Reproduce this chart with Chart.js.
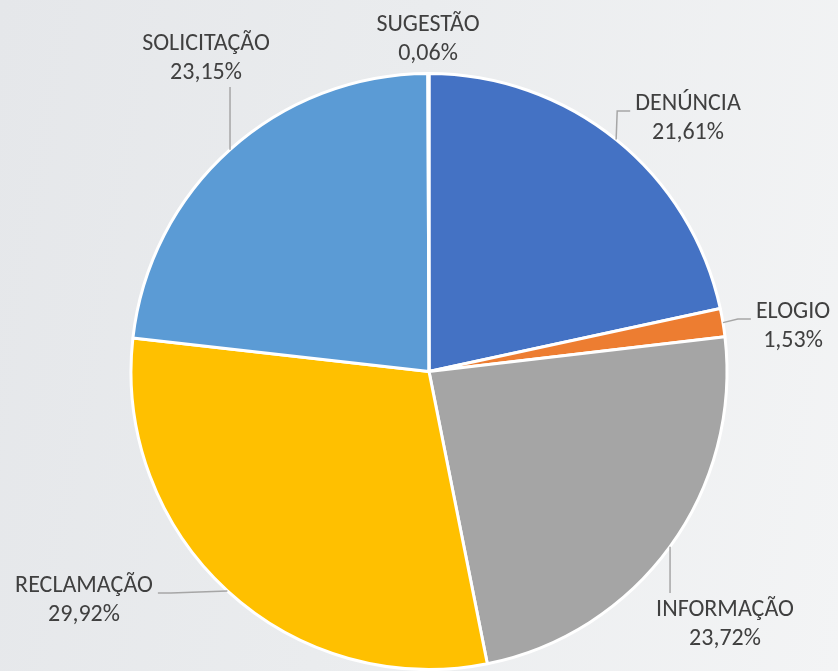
<!DOCTYPE html>
<html>
<head>
<meta charset="utf-8">
<script src="https://cdn.jsdelivr.net/npm/chart.js@4.4.0/dist/chart.umd.min.js"></script>
<style>
  html, body { margin: 0; padding: 0; }
  body {
    width: 838px; height: 671px; overflow: hidden;
    background: linear-gradient(100deg, #e5e7ea 0%, #eaecee 45%, #f3f4f5 100%);
  }
  #wrap { position: relative; width: 838px; height: 671px; }
</style>
</head>
<body>
<div id="wrap"><canvas id="mycanvas" width="838" height="671"></canvas></div>
<script>
// data (clockwise from 12 o'clock)
var categorias = ['DENÚNCIA', 'ELOGIO', 'INFORMAÇÃO', 'RECLAMAÇÃO', 'SOLICITAÇÃO', 'SUGESTÃO'];
var percentuais = [21.61, 1.53, 23.72, 29.92, 23.15, 0.06];
var cores = ['#4472C4', '#ED7D31', '#A5A5A5', '#FFC000', '#5B9BD5', '#70AD47'];

// where each data label sits (centre x, first line y) and which side the leader line joins
var posRotulos = [
  {x: 688, y: 104, lado: 'left'},
  {x: 793, y: 312, lado: 'left'},
  {x: 725, y: 610, lado: 'top'},
  {x: 84,  y: 586, lado: 'right'},
  {x: 206, y: 44,  lado: 'bottom'},
  {x: 428, y: 25,  lado: 'none'}
];

var fonteRotulo = '24px Calibri, Carlito, Lato, sans-serif';
var entreLinhas = 29;

var rotulosPlugin = {
  id: 'rotulos',
  afterDatasetsDraw: function(chart) {
    var ctx = chart.ctx;
    var meta = chart.getDatasetMeta(0);
    ctx.save();
    ctx.font = fonteRotulo;
    ctx.textAlign = 'center';
    ctx.textBaseline = 'middle';
    meta.data.forEach(function(arc, i) {
      var p = posRotulos[i];
      var linha1 = categorias[i];
      var linha2 = percentuais[i].toFixed(2).replace('.', ',') + '%';
      var larg = ctx.measureText(linha1).width;
      var meio = (arc.startAngle + arc.endAngle) / 2;
      var ax = arc.x + Math.cos(meio) * arc.outerRadius;
      var ay = arc.y + Math.sin(meio) * arc.outerRadius;

      ctx.strokeStyle = '#a6a6a6';
      ctx.lineWidth = 1.5;
      ctx.beginPath();
      if (p.lado === 'left' || p.lado === 'right') {
        var ty = p.y + 7;
        var tx = p.lado === 'left' ? p.x - larg / 2 - 5 : p.x + larg / 2 + 5;
        var cx = p.lado === 'left' ? tx - 13 : tx + 13;
        ctx.moveTo(ax, ay);
        ctx.lineTo(cx, ty);
        ctx.lineTo(tx, ty);
        ctx.stroke();
      } else if (p.lado === 'top' || p.lado === 'bottom') {
        var by = p.lado === 'top' ? p.y - 17 : p.y + entreLinhas + 14;
        ctx.moveTo(ax, ay);
        ctx.lineTo(ax, by);
        ctx.stroke();
      }

      ctx.fillStyle = '#404040';
      ctx.fillText(linha1, p.x, p.y);
      ctx.fillText(linha2, p.x, p.y + entreLinhas);
    });
    ctx.restore();
  }
};

var ctx = document.getElementById('mycanvas');
var pizza = new Chart(ctx, {
  type: 'pie',
  data: {
    labels: categorias,
    datasets: [{
      data: percentuais,
      backgroundColor: cores,
      borderColor: '#ffffff',
      borderWidth: 3
    }]
  },
  options: {
    responsive: false,
    animation: false,
    layout: { padding: { left: 129, right: 109, top: 72, bottom: 0 } },
    plugins: {
      legend: { display: false },
      tooltip: { enabled: false }
    }
  },
  plugins: [rotulosPlugin]
});
</script>
</body>
</html>
